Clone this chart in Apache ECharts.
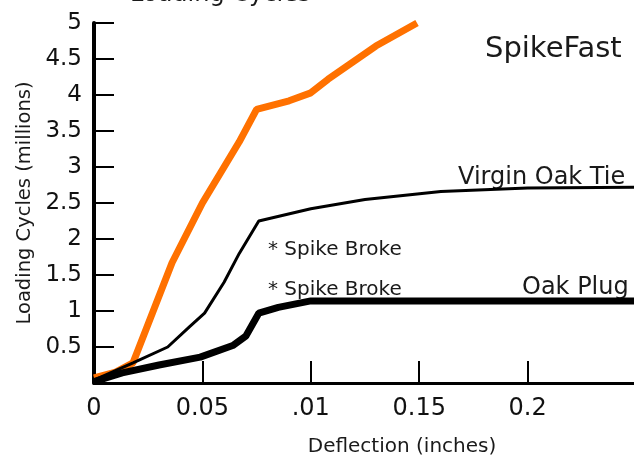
<!DOCTYPE html>
<html>
<head>
    <meta charset="utf-8">
    <title>Loading Cycles</title>
    <script src="https://cdn.jsdelivr.net/npm/echarts@6/dist/echarts.min.js"></script>
</head>
<body style="margin:0;">
<div id="main" style="width: 634px;height:460px;"></div>
<script type="text/javascript">
    // deflection (inches), loading cycles (millions)
    var spikeFast = [
        [0, 0.07], [0.01, 0.15], [0.018, 0.28], [0.036, 1.67], [0.05, 2.5],
        [0.06, 3.0], [0.067, 3.35], [0.075, 3.8], [0.09, 3.92], [0.1, 4.03],
        [0.108, 4.22], [0.13, 4.68], [0.149, 5.0]
    ];
    var virginOakTie = [
        [0, 0.04], [0.018, 0.28], [0.034, 0.5], [0.044, 0.78], [0.051, 0.97],
        [0.06, 1.4], [0.067, 1.8], [0.076, 2.25], [0.1, 2.42], [0.125, 2.55],
        [0.16, 2.66], [0.2, 2.71], [0.25, 2.72]
    ];
    var oakPlug = [
        [0, 0.02], [0.013, 0.14], [0.03, 0.25], [0.049, 0.36], [0.064, 0.52],
        [0.07, 0.65], [0.076, 0.97], [0.085, 1.05], [0.1, 1.14], [0.25, 1.14]
    ];
    var xTickValues = [0.05, 0.1, 0.15, 0.2];
    var xTickLabels = ['0', '0.05', '.01', '0.15', '0.2', ''];

    var font = 'DejaVu Sans';
    var myChart = echarts.init(document.getElementById('main'));

    function note(text, x, y, size) {
        return {
            type: 'text',
            left: x,
            top: y,
            style: {
                text: text,
                font: size + 'px "' + font + '"',
                fill: '#1a1a1a',
                verticalAlign: 'middle'
            }
        };
    }

    myChart.setOption({
        animation: false,
        grid: {left: 94, top: 23, width: 542, height: 360, outerBoundsMode: 'none', containLabel: false},
        xAxis: {
            type: 'value',
            min: 0,
            max: 0.25,
            interval: 0.05,
            name: 'Deflection (inches)',
            nameLocation: 'middle',
            nameGap: 54,
            nameTextStyle: {fontFamily: font, fontSize: 20, color: '#1a1a1a', padding: [0, 0, 0, 74]},
            axisLine: {lineStyle: {color: '#000', width: 3}},
            axisTick: {inside: true, length: 22, customValues: xTickValues, lineStyle: {color: '#000', width: 2}},
            axisLabel: {
                margin: 14,
                fontFamily: font,
                fontSize: 24,
                color: '#111',
                formatter: function (v) {
                    return xTickLabels[Math.round(v / 0.05)];
                }
            },
            splitLine: {show: false}
        },
        yAxis: {
            type: 'value',
            min: 0,
            max: 5,
            interval: 0.5,
            name: 'Loading Cycles (millions)',
            nameLocation: 'middle',
            nameGap: 56,
            nameTextStyle: {fontFamily: font, fontSize: 19.5, color: '#1a1a1a'},
            axisLine: {lineStyle: {color: '#000', width: 4}},
            axisTick: {inside: true, length: 20, lineStyle: {color: '#000', width: 2}},
            axisLabel: {
                margin: 12,
                fontFamily: font,
                fontSize: 23,
                color: '#111',
                formatter: function (v) {
                    return v === 0 ? '' : String(v);
                }
            },
            splitLine: {show: false}
        },
        graphic: [
            {
                type: 'text',
                left: 130,
                top: -17,
                style: {text: 'Loading Cycles', font: '24px "' + font + '"', fill: '#1a1a1a'}
            },
            note('SpikeFast', 485, 35, 29),
            note('Virgin Oak Tie', 458, 166, 24),
            note('Oak Plug', 522, 276, 24),
            note('* Spike Broke', 268, 240, 20),
            note('* Spike Broke', 268, 280, 20)
        ],
        series: [
            {
                name: 'SpikeFast',
                type: 'line',
                data: spikeFast,
                showSymbol: false,
                lineStyle: {color: '#ff7100', width: 7}
            },
            {
                name: 'Virgin Oak Tie',
                type: 'line',
                data: virginOakTie,
                showSymbol: false,
                lineStyle: {color: '#000', width: 3}
            },
            {
                name: 'Oak Plug',
                type: 'line',
                data: oakPlug,
                showSymbol: false,
                lineStyle: {color: '#000', width: 7}
            }
        ]
    });
</script>
</body>
</html>
